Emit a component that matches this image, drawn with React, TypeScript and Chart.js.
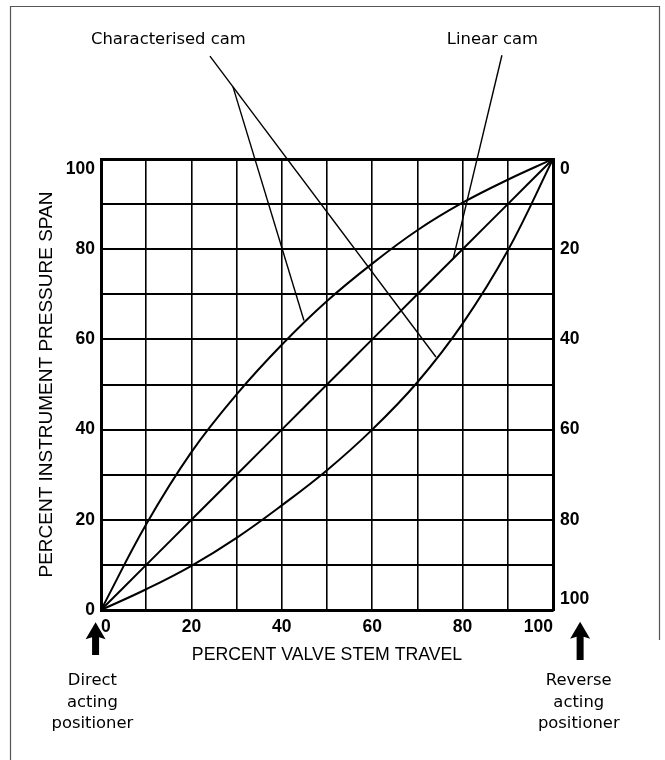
import { useEffect, useRef } from 'react';
import { Chart, registerables } from 'chart.js';

Chart.register(...registerables);

// ---- data ----
const stemTravel = [0, 10, 20, 30, 40, 50, 60, 70, 80, 90, 100];
const characterisedUpper = [0, 19, 35, 47.8, 58.8, 68.5, 76.8, 84.2, 90.3, 95.4, 100];
const linearCam = [0, 10, 20, 30, 40, 50, 60, 70, 80, 90, 100];
const characterisedLower = [0, 4.6, 9.8, 16, 23.2, 31, 40, 50.5, 63.5, 79.7, 100];

const xTickLabels = [0, 20, 40, 60, 80, 100];
const leftTickLabels = [0, 20, 40, 60, 80, 100];
const rightTickLabels = [0, 20, 40, 60, 80, 100];

// leader lines (data units)
const characterisedTrunkX = [24.1, 74.1];
const characterisedTrunkY = [122.8, 56.1];
const characterisedBranchX = [29.2, 44.9];
const characterisedBranchY = [116, 64.2];
const linearLeaderX = [88.7, 77.9];
const linearLeaderY = [123, 77.8];

const calloutTexts = ['Characterised cam', 'Linear cam'];
const calloutX = [14.9, 86.6];
const calloutY = [125.5, 125.5];

const directLines = ['Direct', 'acting', 'positioner'];
const reverseLines = ['Reverse', 'acting', 'positioner'];
const directX = -1.9;
const reverseX = 105.7;
const noteBaselineY = -16.6;

const arrowX = [-1.2, 106];
const arrowTipY = [-2.7, -2.6];
const arrowTailY = [-10, -11.1];

const pts = (xs: number[], ys: number[]) => xs.map((x, i) => ({ x, y: ys[i] }));

const SANS = '"Liberation Sans", Arial, sans-serif';
const WIDE = '"DejaVu Sans", sans-serif';

const annotationPlugin = {
  id: 'annotationPlugin',
  afterDraw(chart: any) {
    const { ctx } = chart;
    const xs = chart.scales.x;
    const ys = chart.scales.y;
    ctx.save();
    // page frame
    ctx.strokeStyle = '#555';
    ctx.lineWidth = 1.2;
    ctx.beginPath();
    ctx.moveTo(10.5, 760);
    ctx.lineTo(10.5, 6.5);
    ctx.lineTo(659.5, 6.5);
    ctx.lineTo(659.5, 640);
    ctx.stroke();

    ctx.fillStyle = '#000';
    ctx.font = `16.4px ${WIDE}`;
    ctx.textAlign = 'center';
    ctx.textBaseline = 'alphabetic';
    calloutTexts.forEach((t, i) => {
      ctx.fillText(t, xs.getPixelForValue(calloutX[i]), ys.getPixelForValue(calloutY[i]));
    });
    const base = ys.getPixelForValue(noteBaselineY);
    directLines.forEach((t, i) => ctx.fillText(t, xs.getPixelForValue(directX), base + i * 21.7));
    reverseLines.forEach((t, i) => ctx.fillText(t, xs.getPixelForValue(reverseX), base + i * 21.7));

    // arrows
    arrowX.forEach((ax, i) => {
      const cx = xs.getPixelForValue(ax);
      const tip = ys.getPixelForValue(arrowTipY[i]);
      const tail = ys.getPixelForValue(arrowTailY[i]);
      const headLen = 17;
      const headHalf = 10;
      const shaftHalf = 3.5;
      ctx.beginPath();
      ctx.moveTo(cx, tip);
      ctx.lineTo(cx + headHalf, tip + headLen);
      ctx.lineTo(cx + shaftHalf, tip + headLen - 2);
      ctx.lineTo(cx + shaftHalf, tail);
      ctx.lineTo(cx - shaftHalf, tail);
      ctx.lineTo(cx - shaftHalf, tip + headLen - 2);
      ctx.lineTo(cx - headHalf, tip + headLen);
      ctx.closePath();
      ctx.fill();
    });
    ctx.restore();
  },
};

export default function App() {
  const ref = useRef<HTMLCanvasElement | null>(null);

  useEffect(() => {
    if (!ref.current) return;
    const curve = (xs: number[], ys: number[]) => ({
      data: pts(xs, ys),
      borderColor: '#000',
      borderWidth: 2,
      pointRadius: 0,
      showLine: true,
      tension: 0.4,
    });
    const leader = (xs: number[], ys: number[]) => ({
      data: pts(xs, ys),
      borderColor: '#000',
      borderWidth: 1.4,
      pointRadius: 0,
      showLine: true,
      clip: false as any,
    });

    const chart = new Chart(ref.current, {
      type: 'scatter',
      data: {
        datasets: [
          curve(stemTravel, characterisedUpper),
          curve(stemTravel, linearCam),
          curve(stemTravel, characterisedLower),
          leader(characterisedTrunkX, characterisedTrunkY),
          leader(characterisedBranchX, characterisedBranchY),
          leader(linearLeaderX, linearLeaderY),
        ] as any,
      },
      options: {
        animation: false,
        responsive: false,
        devicePixelRatio: 1,
        layout: { padding: { top: 159, left: 0, right: 0, bottom: 0 } },
        plugins: { legend: { display: false }, tooltip: { enabled: false } },
        scales: {
          x: {
            type: 'linear',
            min: 0,
            max: 100,
            ticks: {
              stepSize: 10,
              align: 'inner',
              padding: 7,
              color: '#000',
              font: { family: SANS, size: 17.5, weight: 'bold' },
              callback: (v: any) => (xTickLabels.includes(Number(v)) ? String(v) : ''),
            },
            grid: { color: '#000', lineWidth: 1.6, drawTicks: false },
            border: { display: true, color: '#000', width: 3 },
            title: {
              display: true,
              text: 'PERCENT VALVE STEM TRAVEL',
              color: '#000',
              font: { family: SANS, size: 17.7 },
              padding: { top: 0, bottom: 94 },
            },
            afterFit: (s: any) => {
              s.height = 150;
            },
          },
          y: {
            type: 'linear',
            position: 'left',
            min: 0,
            max: 100,
            ticks: {
              stepSize: 10,
              padding: 6,
              color: '#000',
              font: { family: SANS, size: 17.5, weight: 'bold' },
              callback: (v: any) => {
                const n = Number(v);
                if (!leftTickLabels.includes(n)) return '';
                return n === 100 ? ['', String(n)] : String(n);
              },
            },
            grid: {
              color: '#000',
              lineWidth: (c: any) => (c.tick && c.tick.value === 100 ? 3 : 2),
              drawTicks: false,
            },
            border: { display: true, color: '#000', width: 3 },
            title: {
              display: true,
              text: 'PERCENT INSTRUMENT PRESSURE SPAN',
              color: '#000',
              font: { family: SANS, size: 19 },
              padding: { top: 35.6, bottom: 0 },
            },
            afterFit: (s: any) => {
              s.width = 101;
            },
          },
          y2: {
            type: 'linear',
            position: 'right',
            reverse: true,
            min: 0,
            max: 100,
            ticks: {
              stepSize: 10,
              padding: 7,
              color: '#000',
              font: { family: SANS, size: 17.5, weight: 'bold' },
              callback: (v: any) => {
                const n = Number(v);
                if (!rightTickLabels.includes(n)) return '';
                if (n === 0) return ['', '0'];
                if (n === 100) return ['100', ''];
                return String(n);
              },
            },
            grid: { display: false, drawTicks: false },
            border: { display: true, color: '#000', width: 3 },
            afterFit: (s: any) => {
              s.width = 112;
            },
          },
        },
      } as any,
      plugins: [annotationPlugin],
    });
    return () => chart.destroy();
  }, []);

  return (
    <div style={{ position: 'absolute', left: 0, top: 0, width: 665, height: 760, background: '#fff' }}>
      <canvas ref={ref} width={665} height={760} style={{ display: 'block' }} />
    </div>
  );
}
